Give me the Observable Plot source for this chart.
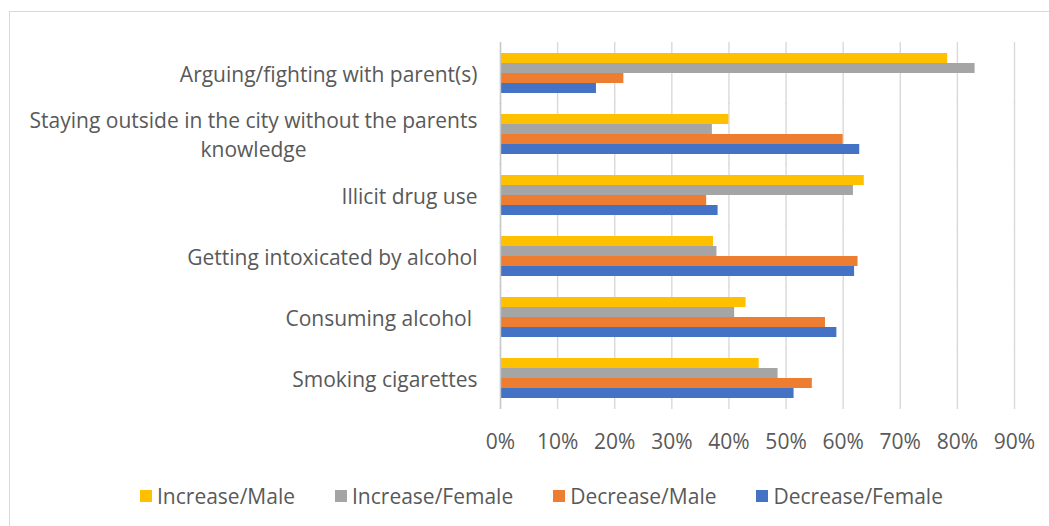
<!DOCTYPE html>
<html>
<head>
<meta charset="utf-8">
<script src="https://cdn.jsdelivr.net/npm/d3@7"></script>
<script src="https://cdn.jsdelivr.net/npm/@observablehq/plot@0.6"></script>
<style>
  html, body { margin: 0; padding: 0; background: #fff; }
  #wrap { position: relative; width: 1049px; height: 526px; overflow: hidden; font-family: "Open Sans", "Noto Sans", sans-serif; }
  #frame { position: absolute; left: 9px; top: 11px; right: -2px; bottom: -2px; border-top: 1px solid #d9d9d9; border-left: 1px solid #d9d9d9; }
  #chart { position: absolute; left: 0; top: 0; }
  #chart svg text { white-space: pre; }
  #legend { position: absolute; left: 140px; top: 484px; display: flex; gap: 40px; font-size: 21px; color: #595959; line-height: 24px; }
  .item { display: flex; align-items: center; gap: 5px; }
  .sw { width: 12px; height: 12px; display: inline-block; }
</style>
</head>
<body>
<div id="wrap">
  <div id="frame"></div>
  <div id="chart"></div>
  <div id="legend"></div>
</div>
<script>
const categories = [
  "Arguing/fighting with parent(s)",
  "Staying outside in the city without the parents knowledge",
  "Illicit drug use",
  "Getting intoxicated by alcohol",
  "Consuming alcohol ",
  "Smoking cigarettes"
];
const series = ["Increase/Male", "Increase/Female", "Decrease/Male", "Decrease/Female"];
const colors = ["#FFC000", "#A5A5A5", "#ED7D31", "#4472C4"];
const increaseMale   = [78.3, 40.0, 63.7, 37.3, 43.0, 45.3];
const increaseFemale = [83.1, 37.1, 61.8, 37.9, 41.0, 48.6];
const decreaseMale   = [21.6, 60.0, 36.1, 62.6, 56.9, 54.6];
const decreaseFemale = [16.8, 62.9, 38.1, 62.0, 58.9, 51.4];
const xTicks = [0, 0.1, 0.2, 0.3, 0.4, 0.5, 0.6, 0.7, 0.8, 0.9];
const categoryLabels = {
  "Staying outside in the city without the parents knowledge": "Staying outside in the city without the parents\nknowledge"
};

const seriesValues = [increaseMale, increaseFemale, decreaseMale, decreaseFemale];
const data = [];
categories.forEach((c, i) => {
  series.forEach((s, j) => {
    data.push({category: c, series: s, value: seriesValues[j][i] / 100});
  });
});

const chart = Plot.plot({
  width: 1049,
  height: 470,
  marginLeft: 500,
  marginRight: 35,
  marginTop: 41,
  marginBottom: 59,
  style: {fontFamily: "'Open Sans', 'Noto Sans', sans-serif", fontSize: "21px", color: "#595959", background: "transparent", overflow: "visible"},
  x: {domain: [0, 0.9], ticks: xTicks, tickFormat: d3.format(".0%")},
  y: {domain: series, padding: 0, axis: null},
  fy: {domain: categories, paddingInner: 0.308, paddingOuter: 0.1455, axis: null},
  color: {domain: series, range: colors},
  marks: [
    Plot.ruleX(xTicks, {stroke: "#d9d9d9", strokeWidth: 1.4, insetTop: -10, insetBottom: -10}),
    Plot.barX(data, {fy: "category", y: "series", x: "value", fill: "series"}),
    Plot.ruleX([0], {stroke: "#c8c8c8", strokeWidth: 1.4, insetTop: -10, insetBottom: -10}),
    Plot.axisX({anchor: "bottom", ticks: xTicks, tickFormat: d3.format(".0%"), tickSize: 0, tickPadding: 35, label: null, fill: "#595959"}),
    Plot.axisFy({anchor: "left", tickSize: 0, tickPadding: 23, label: null, lineHeight: 1.35, dy: -1, tickFormat: d => categoryLabels[d] || d, fill: "#595959"})
  ]
});
document.getElementById("chart").appendChild(chart);

// center multi-line category labels as a block (right edge kept)
d3.select(chart).selectAll("text").each(function() {
  const spans = this.querySelectorAll("tspan");
  if (spans.length > 1) {
    let w = 0;
    spans.forEach(t => { w = Math.max(w, t.getComputedTextLength()); });
    const x0 = +(spans[0].getAttribute("x") || 0);
    this.setAttribute("text-anchor", "middle");
    spans.forEach(t => t.setAttribute("x", x0 - w / 2));
  }
});

const legend = d3.select("#legend");
series.forEach((s, i) => {
  const it = legend.append("div").attr("class", "item");
  it.append("span").attr("class", "sw").style("background", colors[i]);
  it.append("span").text(s);
});
</script>
</body>
</html>
